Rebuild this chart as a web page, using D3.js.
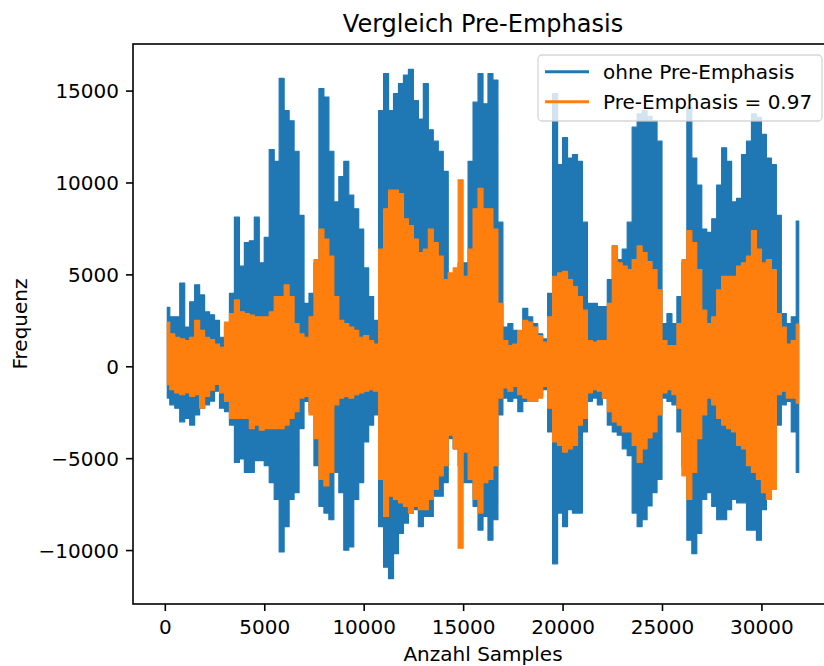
<!DOCTYPE html>
<html>
<head>
<meta charset="utf-8">
<script src="https://cdn.jsdelivr.net/npm/d3@7"></script>
<style>
  body { margin: 0; background: #fff; }
  text { font-family: "DejaVu Sans", sans-serif; fill: #000; }
</style>
</head>
<body>
<svg id="chart" width="824" height="666"></svg>
<script>
// Waveform of 32000 samples, stored as per-block extremes (min/max over each block of 250 samples)
const samplesPerBin = 250;

// Original signal ("ohne Pre-Emphasis"): block maxima and minima
const ohneMax = [
  3200, 2690, 2690, 4530, 2130, 3510, 4430, 3880, 2960, 2800,
  2500, 1580, 2130, 3970, 8110, 5450, 6730, 6830, 8110, 5630,
  7010, 11790, 11150, 15660, 13910, 13360, 11700, 8210, 3420, 3970,
  5630, 15110, 14650, 11700, 8940, 10320, 11150, 9310, 8570, 7470,
  5350, 3790, 2500, 13910, 15930, 13910, 14830, 15380, 15840, 16150,
  14460, 13450, 15380, 12870, 12250, 11700, 10600, 4400, 4800, 5630,
  5630, 11150, 14370, 15930, 14280, 15930, 15570, 7840, 2130, 2320,
  1950, 1860, 3150, 2690, 2320, 1770, 1490, 3970, 14830, 10970,
  12440, 11330, 11520, 11150, 7840, 3420, 3420, 3240, 3240, 4710,
  6550, 5810, 6370, 7840, 13010, 13730, 13910, 13600, 13360, 12250,
  2320, 2870, 2320, 3790, 5630, 14090, 11330, 9860, 7470, 7290,
  8020, 9860, 11890, 11150, 8940, 9130, 11520, 12250, 13730, 13540,
  12620, 11330, 10970, 8210, 2870, 2320, 2690, 7900
];
const ohneMin = [
  -1730, -2100, -2280, -3020, -2830, -3200, -2650, -2280, -2100, -1900,
  -1360, -2280, -2470, -3200, -5230, -5040, -5780, -5780, -5130, -5130,
  -5410, -6330, -7250, -10100, -8720, -7250, -6880, -3390, -1910, -2470,
  -5410, -7620, -7990, -8350, -5780, -6880, -10010, -9830, -7250, -6330,
  -4120, -3200, -2650, -8720, -10930, -11550, -10190, -9090, -8540, -7990,
  -7800, -8720, -8170, -8170, -7070, -7070, -6330, -3940, -4490, -5410,
  -6330, -6330, -7620, -8910, -8170, -9460, -8350, -2650, -1730, -1910,
  -1730, -2470, -1910, -1730, -1910, -1640, -1270, -3570, -10750, -7990,
  -8720, -7800, -7990, -7990, -3570, -1910, -1730, -2100, -1730, -3200,
  -3570, -3750, -4490, -4860, -7990, -8720, -8350, -7600, -6880, -6150,
  -1730, -1910, -2100, -3570, -5410, -9460, -10190, -9090, -7250, -6880,
  -7620, -8350, -8350, -7800, -7250, -7430, -7430, -8910, -8910, -9460,
  -7800, -6880, -5780, -3200, -2100, -1910, -3570, -5780
];

// Pre-emphasised signal (alpha = 0.97): block maxima and minima
const preMax = [
  2400, 1770, 1580, 1490, 1400, 1580, 2500, 1950, 1580, 1450,
  1210, 1030, 2410, 2870, 3610, 2960, 2870, 2780, 2690, 2690,
  2690, 2960, 3790, 3790, 4430, 3790, 2320, 1770, 1580, 2690,
  5810, 7470, 6920, 6000, 3790, 2500, 2320, 2130, 1950, 1580,
  1670, 1400, 1210, 6370, 8570, 9590, 9590, 9400, 8020, 7650,
  6920, 6180, 6370, 7470, 6730, 6000, 4710, 5080, 5350, 10150,
  4890, 6370, 8570, 9680, 8570, 8570, 7470, 3420, 1400, 1120,
  1210, 1950, 2500, 2410, 2130, 1670, 1310, 2690, 4890, 5080,
  5170, 4710, 4340, 3790, 3050, 1400, 1310, 1400, 1400, 3420,
  6550, 5630, 5450, 5260, 5810, 6550, 6180, 5700, 5260, 4160,
  1400, 1120, 1120, 2320, 5810, 7380, 6730, 5260, 3050, 2320,
  2690, 4160, 4890, 4890, 4890, 5450, 5630, 6000, 7380, 6370,
  5630, 5810, 5260, 2870, 2130, 1210, 1400, 2300
];
const preMin = [
  -1000, -1270, -1450, -1550, -1450, -1640, -1550, -2280, -1640, -1300,
  -990, -1450, -1910, -2830, -2830, -2830, -2830, -3390, -3200, -3480,
  -3390, -3390, -3390, -3390, -3200, -2830, -2470, -1730, -1640, -2650,
  -3940, -6150, -6510, -5780, -2100, -1730, -1640, -1730, -1550, -1450,
  -1360, -1270, -1360, -6150, -8170, -7070, -7250, -7430, -7620, -7990,
  -7620, -7800, -7800, -7250, -6700, -5960, -5410, -3750, -4490, -9900,
  -4670, -6150, -7250, -7990, -6330, -6150, -5410, -1730, -1180, -1360,
  -1090, -1550, -1730, -1910, -1910, -1730, -1090, -2280, -4120, -4310,
  -4670, -4490, -4310, -3200, -2830, -1450, -1270, -1360, -1730, -2470,
  -3020, -3200, -3570, -3570, -4310, -5230, -4490, -3900, -3570, -2650,
  -1450, -1270, -1550, -2280, -5960, -7250, -5780, -3940, -2650, -1730,
  -2100, -2830, -3200, -3390, -3570, -4310, -4490, -5410, -5780, -6150,
  -6880, -7250, -6700, -1550, -1360, -1730, -1730, -2000
];

const seriesNames = ["ohne Pre-Emphasis", "Pre-Emphasis = 0.97"];
const seriesColors = ["#1f77b4", "#ff7f0e"];
const xTickValues = [0, 5000, 10000, 15000, 20000, 25000, 30000];
const yTickValues = [-10000, -5000, 0, 5000, 10000, 15000];

const titleText = "Vergleich Pre-Emphasis";
const xLabelText = "Anzahl Samples";
const yLabelText = "Frequenz";

// ---- layout ----
const svg = d3.select("#chart");
const frame = { left: 133, right: 833, top: 44, bottom: 604 };
const fontSize = 20;

// ---- scales (5% margins like the plotting default) ----
const nSamples = ohneMax.length * samplesPerBin;
const xPad = 0.05 * (nSamples - 1);
const x = d3.scaleLinear()
  .domain([-xPad, nSamples - 1 + xPad])
  .range([frame.left, frame.right]);

const allVals = ohneMax.concat(ohneMin, preMax, preMin);
const [vMin, vMax] = d3.extent(allVals);
const yPad = 0.05 * (vMax - vMin);
const y = d3.scaleLinear()
  .domain([vMin - yPad, vMax + yPad])
  .range([frame.bottom, frame.top]);

// ---- series: the dense waveform fills the band between each block's extremes ----
function blocks(maxArr, minArr) {
  return maxArr.map((hi, i) => ({ s: i * samplesPerBin + samplesPerBin / 2, hi, lo: minArr[i] }));
}
const series = [
  { name: seriesNames[0], color: seriesColors[0], data: blocks(ohneMax, ohneMin) },
  { name: seriesNames[1], color: seriesColors[1], data: blocks(preMax, preMin) }
];

svg.append("clipPath").attr("id", "plotClip")
  .append("rect")
  .attr("x", frame.left).attr("y", frame.top)
  .attr("width", frame.right - frame.left).attr("height", frame.bottom - frame.top);

const area = d3.area()
  .x(d => x(d.s))
  .y0(d => y(d.lo))
  .y1(d => y(d.hi))
  .curve(d3.curveStep);

const plotG = svg.append("g").attr("clip-path", "url(#plotClip)");
plotG.selectAll("path.wave")
  .data(series)
  .join("path")
  .attr("class", "wave")
  .attr("d", d => area(d.data))
  .attr("fill", d => d.color)
  .attr("stroke", d => d.color)
  .attr("stroke-width", 1.2)
  .attr("stroke-linejoin", "round");

// ---- axes ----
const xAxis = d3.axisBottom(x)
  .tickValues(xTickValues)
  .tickSize(7)
  .tickPadding(7)
  .tickFormat(d3.format("d"));
const gx = svg.append("g")
  .attr("transform", `translate(0,${frame.bottom})`)
  .call(xAxis);
gx.select(".domain").remove();
gx.selectAll(".tick line").attr("stroke", "#000").attr("stroke-width", 1.6);
gx.selectAll(".tick text")
  .attr("font-size", fontSize)
  .attr("font-family", "DejaVu Sans, sans-serif")
  .attr("fill", "#000")
  .attr("dy", null)
  .attr("y", 29.5);

const yAxis = d3.axisLeft(y)
  .tickValues(yTickValues)
  .tickSize(7)
  .tickPadding(7)
  .tickFormat(d3.format("d"));
const gy = svg.append("g")
  .attr("transform", `translate(${frame.left},0)`)
  .call(yAxis);
gy.select(".domain").remove();
gy.selectAll(".tick line").attr("stroke", "#000").attr("stroke-width", 1.6);
gy.selectAll(".tick text")
  .attr("font-size", fontSize)
  .attr("font-family", "DejaVu Sans, sans-serif")
  .attr("fill", "#000")
  .attr("dy", "0.35em");

// frame (spines)
svg.append("rect")
  .attr("x", frame.left).attr("y", frame.top)
  .attr("width", frame.right - frame.left).attr("height", frame.bottom - frame.top)
  .attr("fill", "none").attr("stroke", "#000").attr("stroke-width", 1.6);

// ---- title and labels ----
const midX = (frame.left + frame.right) / 2;
svg.append("text")
  .attr("x", midX).attr("y", 32)
  .attr("text-anchor", "middle")
  .attr("font-size", 24)
  .text(titleText);

svg.append("text")
  .attr("x", midX).attr("y", 661)
  .attr("text-anchor", "middle")
  .attr("font-size", fontSize)
  .text(xLabelText);

svg.append("text")
  .attr("transform", `translate(27,${(frame.top + frame.bottom) / 2}) rotate(-90)`)
  .attr("text-anchor", "middle")
  .attr("font-size", fontSize)
  .text(yLabelText);

// ---- legend ----
const legend = { x: 538, y: 55, w: 284, h: 66 };
const lg = svg.append("g");
lg.append("rect")
  .attr("x", legend.x).attr("y", legend.y)
  .attr("width", legend.w).attr("height", legend.h)
  .attr("rx", 4).attr("ry", 4)
  .attr("fill", "#fff").attr("fill-opacity", 0.8)
  .attr("stroke", "#cccccc").attr("stroke-opacity", 0.8).attr("stroke-width", 1.3);

const rowY = [71.7, 101.7];
const items = lg.selectAll("g.item")
  .data(series)
  .join("g")
  .attr("class", "item")
  .attr("transform", (d, i) => `translate(0,${rowY[i]})`);
items.append("line")
  .attr("x1", legend.x + 7).attr("x2", legend.x + 51)
  .attr("y1", 0).attr("y2", 0)
  .attr("stroke", d => d.color).attr("stroke-width", 3);
items.append("text")
  .attr("x", legend.x + 65)
  .attr("y", 7)
  .attr("font-size", fontSize)
  .text(d => d.name);
</script>
</body>
</html>
